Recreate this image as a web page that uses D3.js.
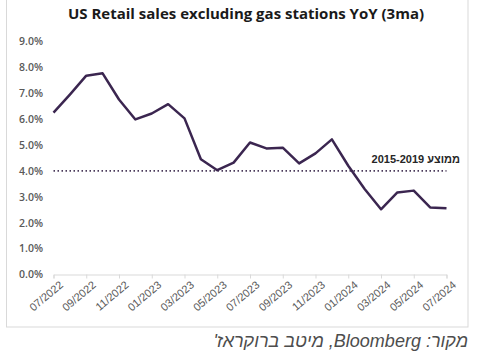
<!DOCTYPE html>
<html><head><meta charset="utf-8">
<script src="https://cdn.jsdelivr.net/npm/d3@7"></script>
<style>body{margin:0;background:#fff}svg{display:block}</style>
</head><body>
<script>
const months = ["07/2022","08/2022","09/2022","10/2022","11/2022","12/2022","01/2023","02/2023","03/2023","04/2023","05/2023","06/2023","07/2023","08/2023","09/2023","10/2023","11/2023","12/2023","01/2024","02/2024","03/2024","04/2024","05/2024","06/2024","07/2024"];
const yoy = [6.25,6.95,7.68,7.77,6.76,5.99,6.22,6.58,6.03,4.45,4.03,4.32,5.10,4.87,4.90,4.29,4.68,5.22,4.20,3.30,2.52,3.17,3.24,2.59,2.56];
const avg2015_2019 = 4.0;
const yTicks = [0,1,2,3,4,5,6,7,8,9];
const titleText = "US Retail sales excluding gas stations YoY (3ma)";
const avgLabel = "ממוצע 2015-2019";
const sourceText = "מקור: Bloomberg, מיטב ברוקראז'";

const W = 480, H = 358;
const svg = d3.select("body").append("svg").attr("width", W).attr("height", H);
svg.append("rect").attr("x",6.5).attr("y",-1).attr("width",461.5).attr("height",328).attr("fill","#fff").attr("stroke","#d9d9d9");

const x = d3.scalePoint().domain(months).range([53.5, 446.5]);
const y = d3.scaleLinear().domain([0, 9]).range([274.5, 41.5]);

svg.append("text").attr("x", 246).attr("y", 19).attr("text-anchor","middle")
  .attr("font-family","'Open Sans', sans-serif").attr("font-weight","bold").attr("font-size",15)
  .attr("fill","#1a1a1a").text(titleText);

// y axis labels
const yAxis = d3.axisLeft(y).tickValues(yTicks).tickSize(0).tickPadding(0).tickFormat(d => d.toFixed(1) + "%");
const gy = svg.append("g").attr("transform","translate(43,0)").call(yAxis);
gy.select(".domain").remove();
gy.selectAll("text").attr("font-family","'Open Sans', sans-serif").attr("font-weight",600).attr("font-size",10.5).attr("fill","#595959");

// x axis
const xTickVals = months.filter((d,i) => i % 2 === 0);
const xAxis = d3.axisBottom(x).tickValues(xTickVals).tickSize(4).tickPadding(2);
const gx = svg.append("g").attr("transform","translate(0,274.5)").call(xAxis);
gx.select(".domain").attr("stroke","#d9d9d9");
gx.selectAll(".tick line").attr("stroke","#d9d9d9");
gx.selectAll("text").attr("font-family","'Liberation Sans', Arial, sans-serif").attr("font-size",11).attr("fill","#595959")
  .attr("text-anchor","end").attr("dy",0).attr("transform","translate(6,7) rotate(-40)");

// average dotted line
svg.append("line").attr("x1", x(months[0])).attr("x2", x(months[months.length-1]))
  .attr("y1", y(avg2015_2019)).attr("y2", y(avg2015_2019))
  .attr("stroke","#4a3a5a").attr("stroke-width",1.8).attr("stroke-dasharray","1.5,2.5");

svg.append("text").attr("x", 460).attr("y", 163).attr("text-anchor","start")
  .attr("font-family","'Liberation Sans', Arial, sans-serif").attr("font-weight","bold").attr("font-size",11)
  .attr("fill","#262626").attr("direction","rtl").text(avgLabel);

// line
svg.append("path").datum(yoy)
  .attr("d", d3.line().x((d,i) => x(months[i])).y(d => y(d)))
  .attr("fill","none").attr("stroke","#3b2650").attr("stroke-width",2.5).attr("stroke-linejoin","round");

svg.append("text").attr("x", 468).attr("y", 347).attr("text-anchor","start").attr("direction","rtl")
  .attr("font-family","'Liberation Sans', Arial, sans-serif").attr("font-style","italic").attr("font-size",18)
  .attr("fill","#4d4d4d").text(sourceText);
</script>
</body></html>
